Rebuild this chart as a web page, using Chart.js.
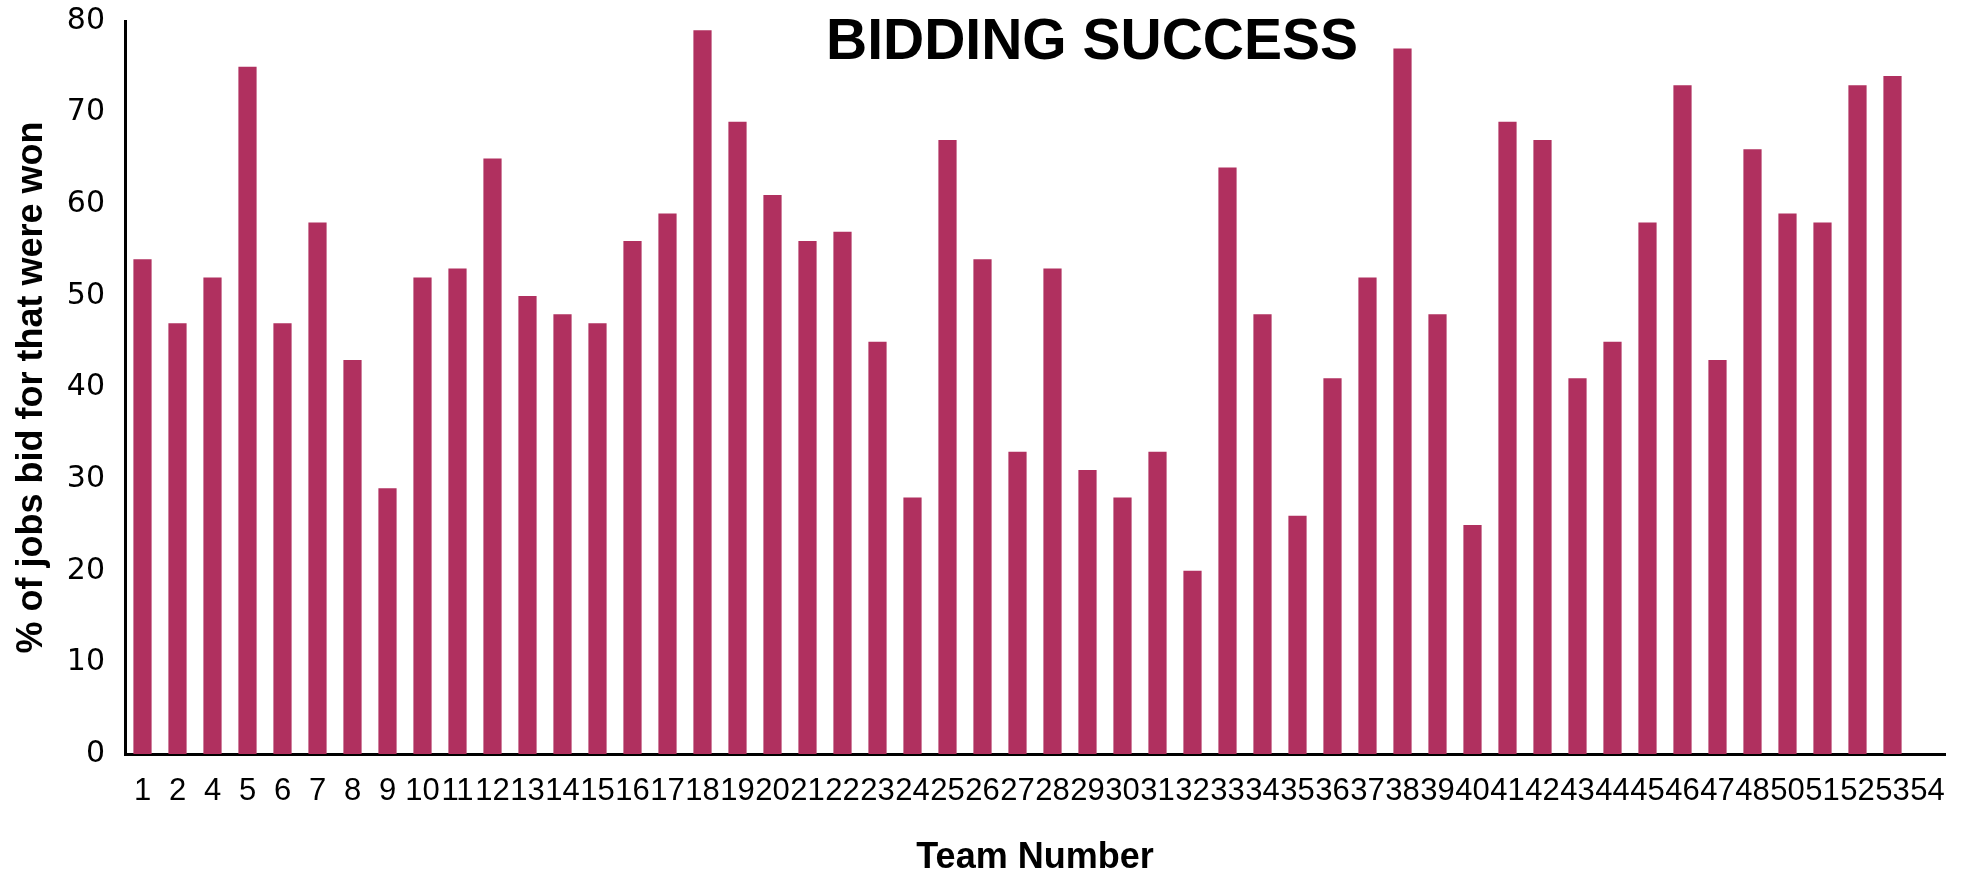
<!DOCTYPE html>
<html>
<head>
<meta charset="utf-8">
<title>Bidding Success</title>
<script src="https://cdn.jsdelivr.net/npm/chart.js@4/dist/chart.umd.min.js"></script>
<style>
  html, body { margin: 0; padding: 0; background: #ffffff; }
  #myChart { display: block; }
</style>
</head>
<body>
<canvas id="myChart" width="1965" height="880"></canvas>
<script>
  // Team numbers shown on the x axis (no 3 and no 49 in the data)
  const teamLabels = [
    "1", "2", "4", "5", "6", "7", "8", "9", "10", "11", "12", "13", "14", "15",
    "16", "17", "18", "19", "20", "21", "22", "23", "24", "25", "26", "27", "28",
    "29", "30", "31", "32", "33", "34", "35", "36", "37", "38", "39", "40", "41",
    "42", "43", "44", "45", "46", "47", "48", "50", "51", "52", "53", "54"
  ];

  // % of jobs bid for that were won (team 54 has no bar)
  const wonPercent = [
    54, 47, 52, 75, 47, 58, 43, 29, 52, 53, 65, 50, 48, 47,
    56, 59, 79, 69, 61, 56, 57, 45, 28, 67, 54, 33, 53,
    31, 28, 33, 20, 64, 48, 26, 41, 52, 77, 48, 25, 69,
    67, 41, 45, 58, 73, 43, 66, 59, 58, 73, 74, null
  ];

  // y axis range
  const yMin = 0;
  const yMax = 80;
  const yStep = 10;

  const chartTitle = "BIDDING SUCCESS";
  const xTitle = "Team Number";
  const yTitle = "% of jobs bid for that were won";

  // Title sits on top of the plot area, so draw it ourselves
  const overlayTitle = {
    id: "overlayTitle",
    afterDraw(chart) {
      const ctx = chart.ctx;
      ctx.save();
      ctx.font = "bold 57px 'Liberation Sans', Arial, sans-serif";
      ctx.fillStyle = "#000000";
      ctx.textAlign = "center";
      ctx.textBaseline = "alphabetic";
      ctx.fillText(chartTitle, 1092, 59);
      ctx.restore();
    }
  };

  const ctx = document.getElementById("myChart").getContext("2d");

  const chart = new Chart(ctx, {
    type: "bar",
    data: {
      labels: teamLabels,
      datasets: [{
        label: "Bidding success",
        data: wonPercent,
        backgroundColor: "#b0305f",
        borderWidth: 0,
        barPercentage: 0.52,
        categoryPercentage: 1.0
      }]
    },
    options: {
      responsive: false,
      animation: false,
      layout: {
        padding: { top: 21, right: 20, bottom: 0, left: 0 }
      },
      plugins: {
        legend: { display: false },
        title: { display: false },
        tooltip: { enabled: false }
      },
      scales: {
        x: {
          grid: { display: false, drawTicks: false },
          border: { display: true, color: "#000000", width: 3 },
          ticks: {
            color: "#000000",
            autoSkip: false,
            maxRotation: 0,
            minRotation: 0,
            padding: 19,
            font: { family: "'Liberation Sans', Arial, sans-serif", size: 31 }
          },
          title: {
            display: true,
            text: xTitle,
            color: "#000000",
            font: { family: "'Liberation Sans', Arial, sans-serif", size: 36, weight: "bold" },
            padding: { top: 0, bottom: 0 }
          },
          afterFit: function (scale) {
            scale.height = 126;
            scale.paddingLeft = 0;
            scale.paddingRight = 0;
          }
        },
        y: {
          min: yMin,
          max: yMax,
          grid: { display: false, drawTicks: false },
          border: { display: true, color: "#000000", width: 3 },
          ticks: {
            stepSize: yStep,
            color: "#000000",
            padding: 20,
            font: { family: "'DejaVu Sans', sans-serif", size: 30 }
          },
          title: {
            display: true,
            text: yTitle,
            color: "#000000",
            font: { family: "'Liberation Sans', Arial, sans-serif", size: 36, weight: "bold" },
            padding: { top: 10, bottom: 0 }
          },
          afterFit: function (scale) {
            // plot top is set by the layout padding, not by the "80" label
            scale.width = 125;
            scale.paddingTop = 0;
            scale.paddingBottom = 0;
          }
        }
      }
    },
    plugins: [overlayTitle]
  });
</script>
</body>
</html>
